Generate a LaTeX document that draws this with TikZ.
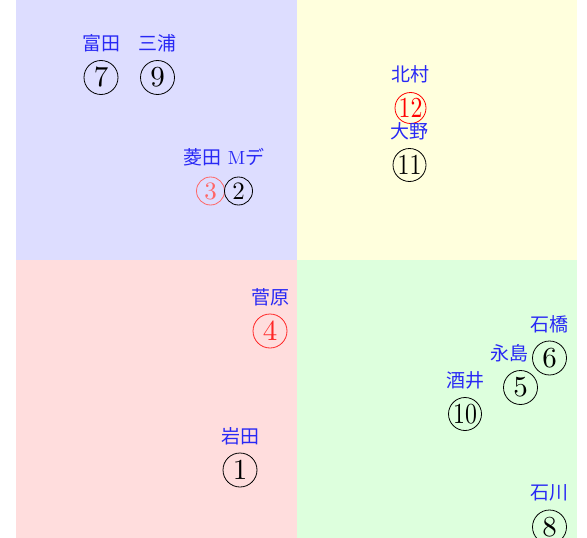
\documentclass[tikz,border=0pt]{standalone}
\usepackage{fontspec}
\newfontfamily\jpfont{Noto Sans CJK JP}
\newfontfamily\numfont{lmroman10-regular.otf}
\usetikzlibrary{positioning}

\definecolor{quadblue}{RGB}{221,221,255}
\definecolor{quadyellow}{RGB}{255,255,221}
\definecolor{quadred}{RGB}{255,221,221}
\definecolor{quadgreen}{RGB}{221,255,221}
\definecolor{nameblue}{RGB}{40,40,245}

\tikzset{
  num/.style={circle, draw, inner sep=0pt, line width=0.8pt, minimum size=34pt,
    font=\numfont\fontsize{29}{29}\selectfont},
  numsmall/.style={minimum size=28pt, font=\numfont\fontsize{25}{25}\selectfont},
  person/.style={text=nameblue, inner sep=0pt, font=\jpfont\fontsize{19}{19}\selectfont},
}

\begin{document}
\begin{tikzpicture}[x=1pt, y=-1pt, node distance=34pt, on grid]

\useasboundingbox (0,0) rectangle (587,538);
% four quadrants
  \fill[quadblue] (16,0) rectangle (297,260);
  \fill[quadyellow] (297,0) rectangle (577,260);
  \fill[quadred] (16,260) rectangle (297,538);
  \fill[quadgreen] (297,260) rectangle (577,538);
%
  \node[num] (n7) at (101,77.5) {7};
  \node[person, above=of n7] (l7) {富田};
  \node[num] (n9) at (157.5,77.5) {9};
  \node[person, above=of n9] (l9) {三浦};
%
  \node[num, numsmall, red!60] (n3) at (210.5,191) {3};
  \node[person, above=of n3, xshift=-8.5pt] (l3) {菱田};
  \node[num, numsmall] (n2) at (238.5,191) {2};
  \node[person, above=of n2, xshift=7.5pt] (l2) {{\numfont M}デ};
%
  \node[num, red, minimum size=31pt] (n12) at (410.5,108) {\scalebox{0.82}[1]{12}};
  \node[person, above=of n12] (l12) {北村};
  \node[num, minimum size=33pt] (n11) at (409.5,165) {\scalebox{0.82}[1]{11}};
  \node[person, above=of n11] (l11) {大野};
%
  \node[num, red!85] (n4) at (270,331) {4};
  \node[person, above=of n4] (l4) {菅原};
  \node[num] (n1) at (240,470) {1};
  \node[person, above=of n1] (l1) {岩田};
%
  \node[num] (n6) at (549.5,358) {6};
  \node[person, above=of n6] (l6) {石橋};
  \node[num] (n5) at (520.5,387.5) {5};
  \node[person, above=of n5, xshift=-11pt] (l5) {永島};
  \node[num, minimum size=33pt] (n10) at (465,414) {\scalebox{0.82}[1]{10}};
  \node[person, above=of n10] (l10) {酒井};
  \node[num] (n8) at (549.5,527) {8};
  \node[person, above=of n8] (l8) {石川};
%
\end{tikzpicture}
\end{document}
